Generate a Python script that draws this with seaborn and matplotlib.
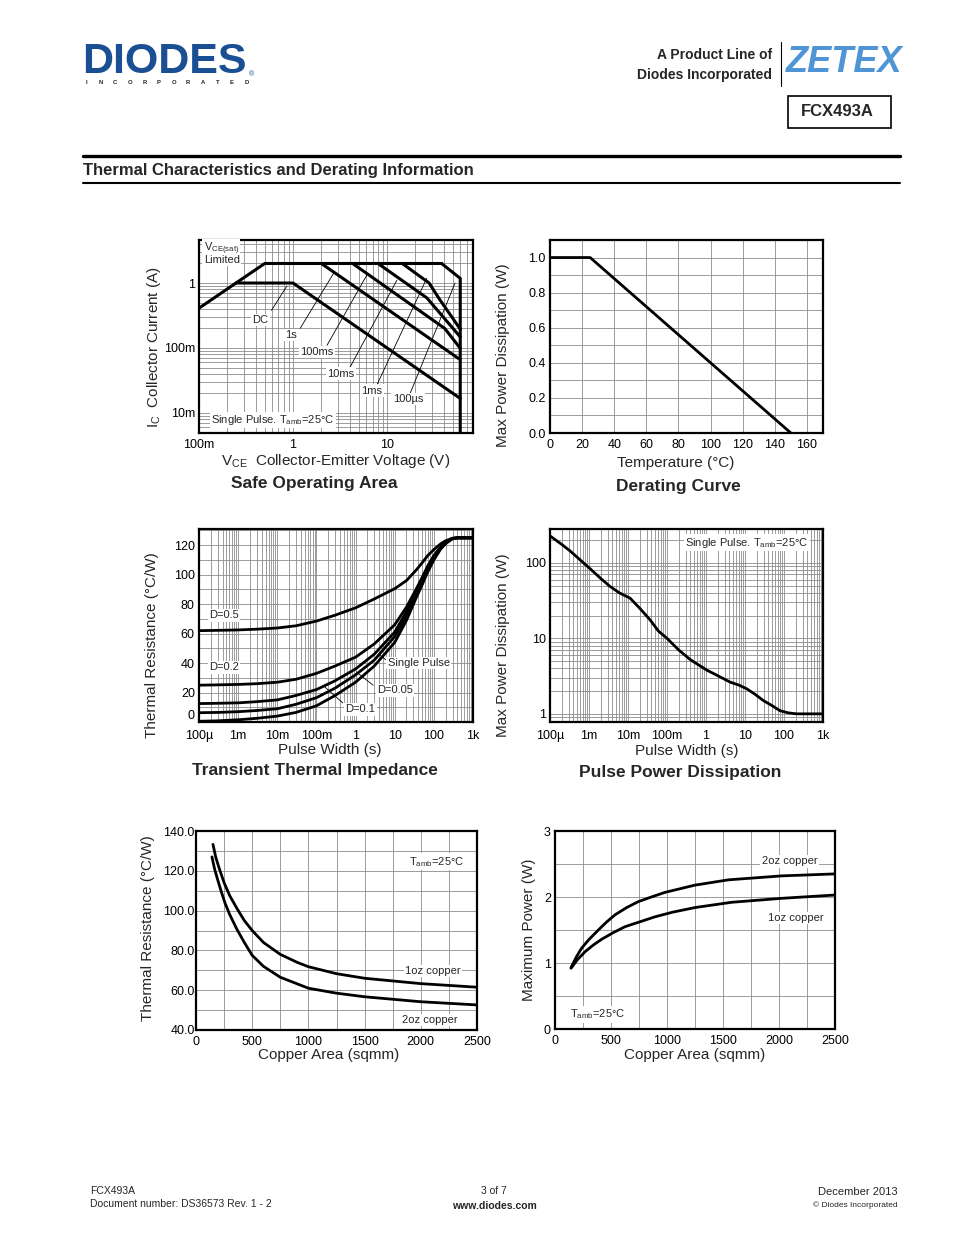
import matplotlib

matplotlib.use("Agg")
import matplotlib.pyplot as plt
import numpy as np
import seaborn as sns
from matplotlib.lines import Line2D
from matplotlib.patches import Rectangle
from matplotlib.ticker import LogLocator, MultipleLocator, NullFormatter

W, H = 954, 1235

# Safe operating area: collector-emitter voltage (V) vs collector current (A)
SOA_VSAT_V = [0.1, 0.5, 38]
SOA_VSAT_I = [0.41, 2.0, 2.0]
SOA_DC_V = [0.247, 1.0, 60]
SOA_DC_I = [1.0, 1.0, 0.0167]
SOA_1S_V = [2.0, 60]
SOA_1S_I = [2.0, 0.066]
SOA_100MS_V = [4.3, 41, 60]
SOA_100MS_I = [2.0, 0.2, 0.099]
SOA_10MS_V = [8.0, 26.5, 60]
SOA_10MS_I = [2.0, 0.59, 0.148]
SOA_1MS_V = [14.5, 28, 36.5, 60]
SOA_1MS_I = [2.0, 1.0, 0.55, 0.195]
SOA_100US_V = [38, 60, 60]
SOA_100US_I = [2.0, 1.18, 0.005]

# Derating curve
DERATE_TEMP = [0, 25, 150]
DERATE_POWER = [1.0, 1.0, 0.0]

# Transient thermal impedance
PULSE_WIDTH = [1e-4, 3e-4, 1e-3, 3e-3, 1e-2, 0.03, 0.1, 0.3, 1, 3, 10, 20, 35, 50, 70,
               100, 150, 200, 300, 400, 1000]
ZTH_D05 = [62, 62.2, 62.5, 63, 63.8, 65.3, 68.5, 72.5, 77.5, 83.5, 90.5, 96, 103, 108,
           113, 117, 121, 123, 124.8, 125, 125]
ZTH_D02 = [25, 25.2, 25.5, 26, 27, 29, 33, 38, 44, 53, 66, 78, 90, 98, 106, 113, 119,
           122, 124.5, 125, 125]
ZTH_D01 = [12.5, 12.7, 13, 13.8, 15, 18, 22, 28, 36, 46, 61, 75, 88, 96, 104, 112, 118.5,
           122, 124.5, 125, 125]
ZTH_D005 = [6.3, 6.5, 7, 7.8, 9, 12, 16.5, 23, 32, 42, 58, 72, 86, 95, 103, 111, 118,
            121.5, 124.5, 125, 125]
ZTH_SINGLE = [0.5, 0.8, 1.5, 2.5, 4, 6.5, 11, 18, 27, 38, 54, 69, 84, 93, 102, 110,
              117.5, 121, 124.5, 125, 125]

# Pulse power dissipation
PP_WIDTH = [1e-4, 2e-4, 3.3e-4, 5e-4, 1e-3, 2e-3, 3.4e-3, 6e-3, 0.0113, 0.02, 0.037, 0.06,
            0.1, 0.2, 0.4, 1.04, 2, 4.1, 7, 11, 18, 29.5, 50, 79, 130, 210, 1000]
PP_POWER = [227, 175, 143, 118, 86, 62, 49, 40, 34, 25, 17.5, 12.5, 10, 7, 5.2, 3.8, 3.2,
            2.64, 2.4, 2.15, 1.82, 1.5, 1.28, 1.1, 1.03, 1.0, 1.0]

# Thermal resistance vs copper area
RTH_AREA_1OZ = [151, 175, 202, 250, 300, 365, 430, 500, 600, 750, 900, 1000, 1250, 1500,
                2000, 2500]
RTH_1OZ = [133.3, 127, 122, 114, 107.5, 101, 95, 90, 84, 78, 74, 71.8, 68.3, 66, 63.3,
           61.5]
RTH_AREA_2OZ = [142, 165, 193, 225, 260, 300, 365, 430, 500, 600, 750, 1000, 1250, 1500,
                2000, 2500]
RTH_2OZ = [127, 121, 115.5, 109.5, 103.5, 98, 90.5, 84, 77.5, 72, 66.5, 61, 58.5, 56.7,
           54.2, 52.6]

# Maximum power vs copper area
PMAX_AREA_2OZ = [143, 190, 238, 300, 387, 460, 536, 640, 744, 860, 982, 1250, 1548, 2024,
                 2500]
PMAX_2OZ = [0.93, 1.09, 1.225, 1.35, 1.5, 1.62, 1.73, 1.84, 1.93, 2.0, 2.07, 2.18, 2.26,
            2.32, 2.35]
PMAX_AREA_1OZ = [143, 200, 268, 340, 417, 520, 625, 750, 893, 1050, 1250, 1577, 2024, 2500]
PMAX_1OZ = [0.92, 1.05, 1.17, 1.27, 1.36, 1.46, 1.55, 1.62, 1.70, 1.77, 1.84, 1.92, 1.98,
            2.03]

LOG_PULSE_TICKS = [1e-4, 1e-3, 1e-2, 0.1, 1, 10, 100, 1000]
LOG_PULSE_LABELS = ["100µ", "1m", "10m", "100m", "1", "10", "100", "1k"]

GRID_COLOR = "#8c8c8c"
LABEL_BOX = dict(facecolor="white", edgecolor="none", pad=1)


def px_rect(l, t, r, b):
    return [l / W, 1 - b / H, (r - l) / W, (b - t) / H]


def ftext(fig, x, y, s, **kw):
    kw.setdefault("va", "center")
    fig.text(x / W, 1 - y / H, s, **kw)


def style_axes(ax):
    for sp in ax.spines.values():
        sp.set_linewidth(1.6)
        sp.set_color("black")
    ax.tick_params(which="both", length=0, labelsize=9, pad=3, colors="black")
    ax.tick_params(axis="x", pad=4.5)
    ax.set_axisbelow(True)
    ax.grid(True, which="both", color=GRID_COLOR, linewidth=0.6)
    ax.set_xlabel("")
    ax.set_ylabel("")


def curve(ax, x, y, lw=2.0):
    sns.lineplot(x=x, y=y, ax=ax, color="black", linewidth=lw,
                 sort=False, estimator=None)


def log_minor(axis):
    axis.set_minor_locator(LogLocator(base=10, subs=np.arange(2, 10), numticks=30))
    axis.set_minor_formatter(NullFormatter())


def leader(ax, p0, p1):
    ax.plot([p0[0], p1[0]], [p0[1], p1[1]], color="black", linewidth=0.6)


def plot_soa(fig):
    ax = fig.add_axes(px_rect(199, 240, 473, 433))
    ax.set_xscale("log")
    ax.set_yscale("log")
    for v, i in [(SOA_VSAT_V, SOA_VSAT_I), (SOA_DC_V, SOA_DC_I), (SOA_1S_V, SOA_1S_I),
                 (SOA_100MS_V, SOA_100MS_I), (SOA_10MS_V, SOA_10MS_I),
                 (SOA_1MS_V, SOA_1MS_I), (SOA_100US_V, SOA_100US_I)]:
        curve(ax, v, i, lw=2.2)
    ax.set_xlim(0.1, 82)
    ax.set_ylim(0.0049, 4.6)
    ax.set_xticks([0.1, 1, 10], ["100m", "1", "10"])
    ax.set_yticks([0.01, 0.1, 1], ["10m", "100m", "1"])
    log_minor(ax.xaxis)
    log_minor(ax.yaxis)
    style_axes(ax)

    labels = [
        ("DC", (0.45, 0.27), (0.59, 0.38), (0.86, 0.9)),
        ("1s", (0.95, 0.158), (1.19, 0.2), (2.7, 1.41)),
        ("100ms", (1.8, 0.087), (2.3, 0.11), (6.1, 1.33)),
        ("10ms", (3.24, 0.04), (3.9, 0.046), (12.7, 1.1)),
        ("1ms", (6.9, 0.022), (7.8, 0.027), (26.4, 1.18)),
        ("100µs", (16.7, 0.0164), (17.6, 0.02), (52.8, 1.0)),
    ]
    for text, pos, p0, p1 in labels:
        leader(ax, p0, p1)
        ax.text(*pos, text, fontsize=8, ha="center", va="center", bbox=LABEL_BOX)
    ax.text(0.112, 3.4, r"V$_{\mathregular{CE(sat)}}$", fontsize=8, va="center", bbox=LABEL_BOX)
    ax.text(0.112, 2.3, "Limited", fontsize=8, va="center", bbox=LABEL_BOX)
    ax.text(0.135, 0.0078, r"Single Pulse. T$_{\mathregular{amb}}$=25°C", fontsize=8,
            va="center", bbox=LABEL_BOX)

    ftext(fig, 154, 347, r"I$_{\mathregular{C}}$  Collector Current (A)", fontsize=11,
          rotation=90, ha="center")
    ftext(fig, 336, 461, r"V$_{\mathregular{CE}}$  Collector-Emitter Voltage (V)",
          fontsize=11, ha="center")
    ftext(fig, 314, 483, "Safe Operating Area", fontsize=12.5, weight="bold", ha="center")


def plot_derating(fig):
    ax = fig.add_axes(px_rect(550, 240, 823, 433))
    curve(ax, DERATE_TEMP, DERATE_POWER)
    ax.set_xlim(0, 170)
    ax.set_ylim(0, 1.1)
    ax.set_xticks(range(0, 161, 20))
    ax.set_yticks([0, 0.2, 0.4, 0.6, 0.8, 1.0], ["0.0", "0.2", "0.4", "0.6", "0.8", "1.0"])
    ax.yaxis.set_minor_locator(MultipleLocator(0.1))
    style_axes(ax)
    ftext(fig, 503, 355, "Max Power Dissipation (W)", fontsize=11, rotation=90, ha="center")
    ftext(fig, 676, 463, "Temperature (°C)", fontsize=11, ha="center")
    ftext(fig, 678, 486, "Derating Curve", fontsize=12.5, weight="bold", ha="center")


def plot_transient(fig):
    ax = fig.add_axes(px_rect(199, 529, 473, 722))
    ax.set_xscale("log")
    for zth in [ZTH_D05, ZTH_D02, ZTH_D01, ZTH_D005, ZTH_SINGLE]:
        curve(ax, PULSE_WIDTH, zth)
    ax.set_xlim(1e-4, 1e3)
    ax.set_ylim(0, 131)
    ax.set_xticks(LOG_PULSE_TICKS, LOG_PULSE_LABELS)
    ax.set_yticks(range(0, 121, 20))
    ax.yaxis.set_minor_locator(MultipleLocator(10))
    log_minor(ax.xaxis)
    style_axes(ax)
    ax.tick_params(axis="x", pad=6)
    ax.get_yticklabels()[0].set_va("bottom")

    ax.text(1.8e-4, 72.5, "D=0.5", fontsize=8, va="center", bbox=LABEL_BOX)
    ax.text(1.8e-4, 37, "D=0.2", fontsize=8, va="center", bbox=LABEL_BOX)
    leader(ax, (6.1, 42), (3.9, 46))
    ax.text(6.6, 40, "Single Pulse", fontsize=8, va="center", bbox=LABEL_BOX)
    leader(ax, (2.8, 25), (1.04, 34))
    ax.text(3.5, 21.5, "D=0.05", fontsize=8, va="center", bbox=LABEL_BOX)
    leader(ax, (0.47, 13), (0.16, 24))
    ax.text(0.55, 8.5, "D=0.1", fontsize=8, va="center", bbox=LABEL_BOX)

    ftext(fig, 152, 645, "Thermal Resistance (°C/W)", fontsize=11, rotation=90, ha="center")
    ftext(fig, 330, 750, "Pulse Width (s)", fontsize=11, ha="center")
    ftext(fig, 315, 771, "Transient Thermal Impedance", fontsize=12.5, weight="bold", ha="center")


def plot_pulse_power(fig):
    ax = fig.add_axes(px_rect(550, 529, 823, 722))
    ax.set_xscale("log")
    ax.set_yscale("log")
    curve(ax, PP_WIDTH, PP_POWER)
    ax.set_xlim(1e-4, 1e3)
    ax.set_ylim(0.78, 280)
    ax.set_xticks(LOG_PULSE_TICKS, LOG_PULSE_LABELS)
    ax.set_yticks([1, 10, 100], ["1", "10", "100"])
    log_minor(ax.xaxis)
    log_minor(ax.yaxis)
    style_axes(ax)
    ax.tick_params(axis="x", pad=6)
    ax.text(0.29, 185, r"Single Pulse. T$_{\mathregular{amb}}$=25°C", fontsize=8,
            va="center", bbox=LABEL_BOX)
    ftext(fig, 503, 645, "Max Power Dissipation (W)", fontsize=11, rotation=90, ha="center")
    ftext(fig, 687, 751, "Pulse Width (s)", fontsize=11, ha="center")
    ftext(fig, 680, 772, "Pulse Power Dissipation", fontsize=12.5, weight="bold", ha="center")


def plot_rth_copper(fig):
    ax = fig.add_axes(px_rect(196, 831, 477, 1030))
    curve(ax, RTH_AREA_1OZ, RTH_1OZ)
    curve(ax, RTH_AREA_2OZ, RTH_2OZ)
    ax.set_xlim(0, 2500)
    ax.set_ylim(40, 140)
    ax.set_xticks(range(0, 2501, 500))
    ax.set_yticks(range(40, 141, 20), [f"{v:.1f}" for v in range(40, 141, 20)])
    ax.xaxis.set_minor_locator(MultipleLocator(250))
    ax.yaxis.set_minor_locator(MultipleLocator(10))
    style_axes(ax)
    ax.tick_params(axis="y", pad=1)
    ax.text(1892, 124.6, r"T$_{\mathregular{amb}}$=25°C", fontsize=8, va="center", bbox=LABEL_BOX)
    ax.text(1862, 69.6, "1oz copper", fontsize=8, va="center", bbox=LABEL_BOX)
    ax.text(1833, 45, "2oz copper", fontsize=8, va="center", bbox=LABEL_BOX)
    ftext(fig, 148, 928, "Thermal Resistance (°C/W)", fontsize=11, rotation=90, ha="center")
    ftext(fig, 329, 1055, "Copper Area (sqmm)", fontsize=11, ha="center")


def plot_pmax_copper(fig):
    ax = fig.add_axes(px_rect(555, 831, 835, 1029))
    curve(ax, PMAX_AREA_2OZ, PMAX_2OZ)
    curve(ax, PMAX_AREA_1OZ, PMAX_1OZ)
    ax.set_xlim(0, 2500)
    ax.set_ylim(0, 3)
    ax.set_xticks(range(0, 2501, 500))
    ax.set_yticks([0, 1, 2, 3])
    ax.xaxis.set_minor_locator(MultipleLocator(250))
    ax.yaxis.set_minor_locator(MultipleLocator(0.5))
    style_axes(ax)
    ax.text(1845, 2.54, "2oz copper", fontsize=8, va="center", bbox=LABEL_BOX)
    ax.text(1905, 1.68, "1oz copper", fontsize=8, va="center", bbox=LABEL_BOX)
    ax.text(134, 0.22, r"T$_{\mathregular{amb}}$=25°C", fontsize=8, va="center", bbox=LABEL_BOX)
    ftext(fig, 529, 930, "Maximum Power (W)", fontsize=11, rotation=90, ha="center")
    ftext(fig, 695, 1055, "Copper Area (sqmm)", fontsize=11, ha="center")


def page_furniture(fig):
    # logos and header
    ftext(fig, 82, 62, "DIODES", fontsize=31, weight="heavy", color="#1b4f93", ha="left")
    ftext(fig, 249, 75, "®", fontsize=5, color="#1b4f93", ha="left")
    for k, ch in enumerate("INCORPORATED"):
        ftext(fig, 86 + k * 14.6, 83, ch, fontsize=4.2, weight="bold", color="#222222",
              ha="center")
    ftext(fig, 772, 55, "A Product Line of", fontsize=10, weight="bold", ha="right")
    ftext(fig, 772, 75, "Diodes Incorporated", fontsize=10, weight="bold", ha="right")
    fig.add_artist(Line2D([781 / W, 781 / W], [1 - 42 / H, 1 - 86 / H], color="black",
                          linewidth=0.8))
    ftext(fig, 786, 62, "ZETEX", fontsize=26, weight="bold", style="italic",
          color="#4f95d6", ha="left")
    fig.add_artist(Rectangle((788 / W, 1 - 128 / H), 103 / W, 32 / H, fill=False,
                             edgecolor="black", linewidth=1.2))
    ftext(fig, 837, 112, "FCX493A", fontsize=12, weight="bold", ha="center")

    fig.add_artist(Line2D([83 / W, 900 / W], [1 - 156 / H, 1 - 156 / H], color="black",
                          linewidth=2.4))
    ftext(fig, 83, 170, "Thermal Characteristics and Derating Information", fontsize=12,
          weight="bold", ha="left")
    fig.add_artist(Line2D([83 / W, 900 / W], [1 - 183 / H, 1 - 183 / H], color="black",
                          linewidth=1.5))

    # footer
    ftext(fig, 90, 1191, "FCX493A", fontsize=7.5, ha="left")
    ftext(fig, 90, 1204, "Document number: DS36573 Rev. 1 - 2", fontsize=7.5, ha="left")
    ftext(fig, 494, 1191, "3 of 7", fontsize=7.5, ha="center")
    ftext(fig, 494, 1206, "www.diodes.com", fontsize=7.5, weight="bold", ha="center")
    ftext(fig, 898, 1192, "December 2013", fontsize=8, ha="right")
    ftext(fig, 898, 1205, "© Diodes Incorporated", fontsize=6, ha="right")


def main() -> None:
    sns.set_theme(style="white")
    plt.rcParams["font.family"] = ["Liberation Sans", "DejaVu Sans"]
    plt.rcParams["mathtext.fontset"] = "custom"
    plt.rcParams["mathtext.rm"] = "Liberation Sans"
    plt.rcParams["mathtext.it"] = "Liberation Sans:italic"
    plt.rcParams["mathtext.bf"] = "Liberation Sans:bold"

    fig = plt.figure(figsize=(W / 100, H / 100), dpi=100)
    fig.patch.set_facecolor("white")

    plot_soa(fig)
    plot_derating(fig)
    plot_transient(fig)
    plot_pulse_power(fig)
    plot_rth_copper(fig)
    plot_pmax_copper(fig)
    page_furniture(fig)

    fig.savefig("out.png", dpi=100, facecolor="white")
    plt.close(fig)


if __name__ == "__main__":
    main()
